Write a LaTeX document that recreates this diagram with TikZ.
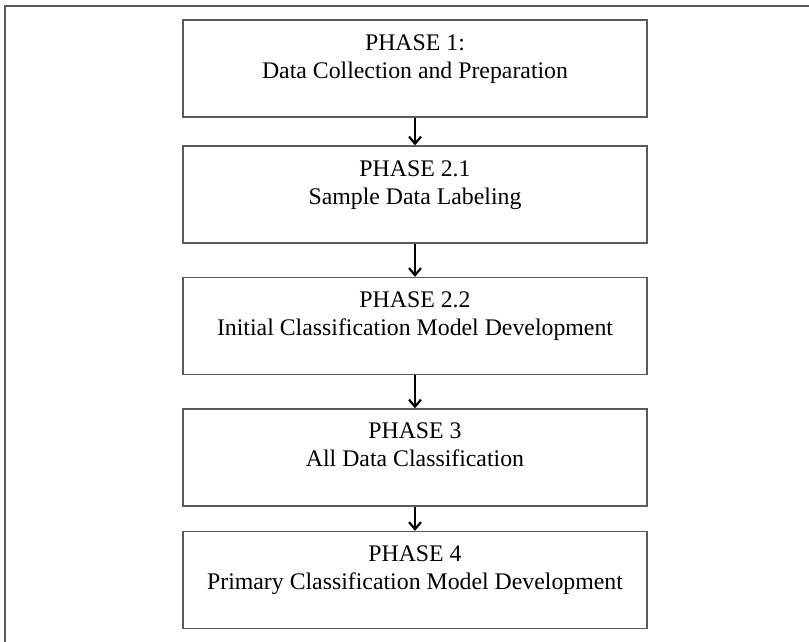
\documentclass[tikz,border=0pt]{standalone}
\usepackage{fontspec}
\setmainfont{Liberation Serif}
\usetikzlibrary{arrows.meta}
\definecolor{boxgray}{RGB}{90,90,90}
\tikzset{
  phasebox/.style={draw=boxgray, line width=1.4pt, minimum width=464pt, minimum height=97pt, inner sep=0pt},
  phasetext/.style={anchor=north, align=center, inner sep=0pt, font=\fontsize{23.8}{28}\selectfont},
  flow/.style={line width=2.2pt, -{Straight Barb[length=7pt,width=12pt,line width=2.2pt]}}
}
\begin{document}
\begin{tikzpicture}[x=1pt,y=-1pt]
\useasboundingbox (0,0) rectangle (809,642);
\draw[boxgray, line width=1.4pt] (5,642) -- (5,6) -- (809,6);
\node[phasebox] (b1) at (415,68.5) {};
\node[phasebox] (b2) at (415,194.5) {};
\node[phasebox] (b3) at (415,326) {};
\node[phasebox] (b4) at (415,457.5) {};
\node[phasebox] (b5) at (415,580) {};
\node[phasetext] (t1) at (415,35) {PHASE 1:\\Data Collection and Preparation};
\node[phasetext] (t2) at (415,161) {PHASE 2.1\\Sample Data Labeling};
\node[phasetext] (t3) at (415,292) {PHASE 2.2\\Initial Classification Model Development};
\node[phasetext] (t4) at (415,423) {PHASE 3\\All Data Classification};
\node[phasetext] (t5) at (415,546) {PHASE 4\\Primary Classification Model Development};
\draw[flow] (b1.south) -- (b2.north);
\draw[flow] (b2.south) -- (b3.north);
\draw[flow] (b3.south) -- (b4.north);
\draw[flow] (b4.south) -- (b5.north);
\end{tikzpicture}
\end{document}
